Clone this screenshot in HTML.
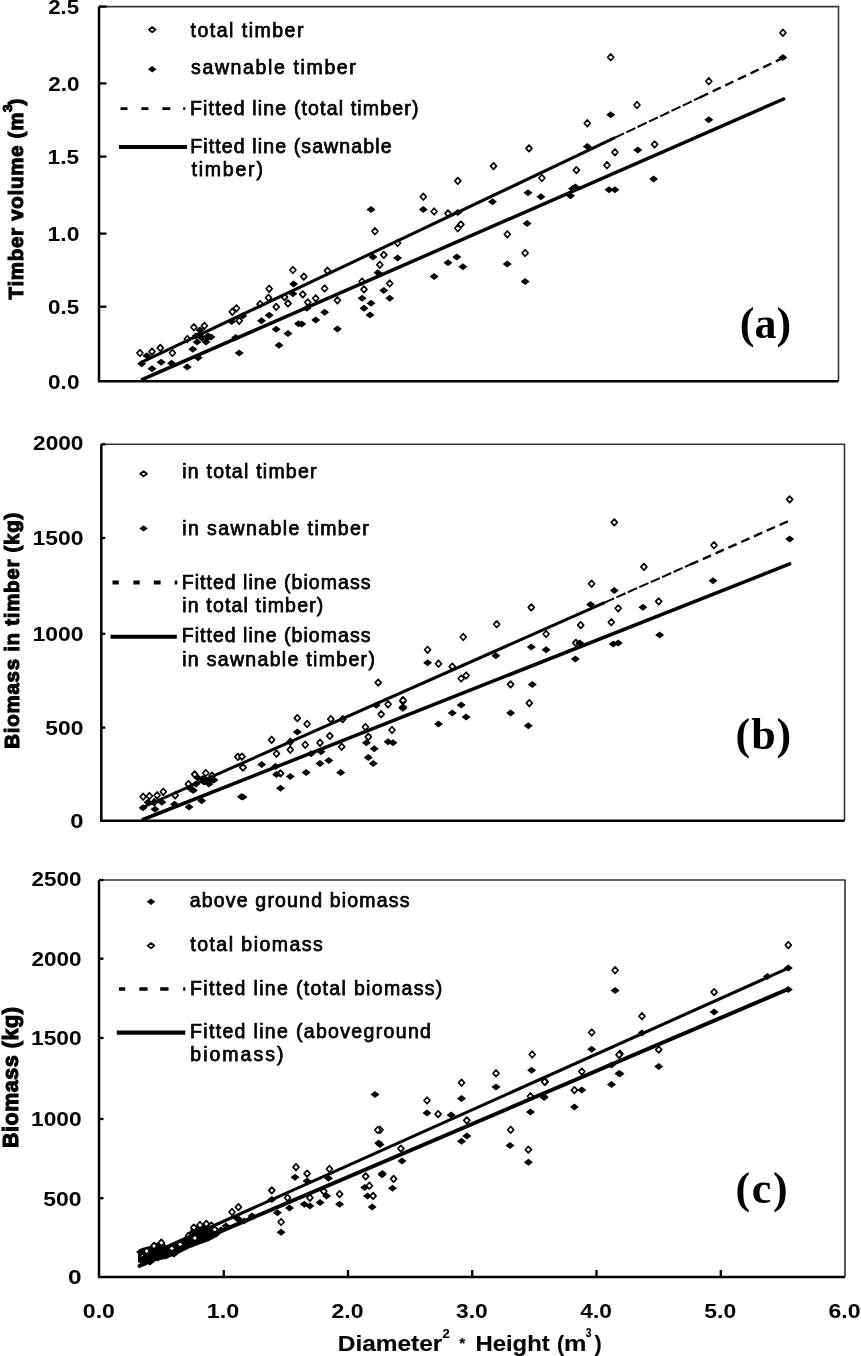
<!DOCTYPE html><html><head><meta charset="utf-8"><title>Timber volume and biomass vs D2H</title>
<style>
*{margin:0;padding:0}
html,body{width:861px;height:1356px;background:#fff;overflow:hidden}
svg{display:block;will-change:transform}
.yt{stroke:#000;stroke-width:1.1}
.xt{stroke:#000;stroke-width:0.15}
.lg{font-weight:normal;stroke:#000;stroke-width:0.75}
text{font-family:"Liberation Sans",sans-serif;font-weight:bold;fill:#000}
.o{fill:#fff;stroke:#000;stroke-width:1.7;stroke-linejoin:round}
.f{fill:#000}
.fr{fill:none;stroke:#333;stroke-width:1.6}
.ax{fill:none;stroke:#000;stroke-width:2.5}
.tk{fill:none;stroke:#000;stroke-width:2.3}
.sl{stroke:#000;stroke-width:3.5;stroke-linecap:round}
.slc{stroke:#000;stroke-width:4.0;stroke-linecap:round}
.ulc{stroke:#000;stroke-width:3.1}
.ul{stroke:#000;stroke-width:3.0}
.dl{stroke:#000;stroke-width:2.4;stroke-dasharray:9 5}
.dl1{stroke:#000;stroke-width:2.0;stroke-dasharray:10 2.5}
</style></head><body>
<svg width="861" height="1356" viewBox="0 0 861 1356">
<path d="M99 6.6H838.5V381.3" class="fr"/>
<path d="M99 6.6V381.3H838.5" class="ax"/>
<path d="M99 6.6h7.5" class="tk"/>
<path d="M99 83.4h7.5" class="tk"/>
<path d="M99 156.6h7.5" class="tk"/>
<path d="M99 233.6h7.5" class="tk"/>
<path d="M99 306.7h7.5" class="tk"/>
<text x="48.19" y="14.26" font-size="20.5" style="font-family:'Liberation Sans',sans-serif" textLength="30.98" lengthAdjust="spacingAndGlyphs">2.5</text>
<text x="48.19" y="91.06" font-size="20.5" style="font-family:'Liberation Sans',sans-serif" textLength="31.25" lengthAdjust="spacingAndGlyphs">2.0</text>
<text x="47.61" y="164.26" font-size="20.5" style="font-family:'Liberation Sans',sans-serif" textLength="31.56" lengthAdjust="spacingAndGlyphs">1.5</text>
<text x="47.61" y="241.26" font-size="20.5" style="font-family:'Liberation Sans',sans-serif" textLength="31.83" lengthAdjust="spacingAndGlyphs">1.0</text>
<text x="48.09" y="314.36" font-size="20.5" style="font-family:'Liberation Sans',sans-serif" textLength="31.08" lengthAdjust="spacingAndGlyphs">0.5</text>
<text x="48.09" y="388.96" font-size="20.5" style="font-family:'Liberation Sans',sans-serif" textLength="31.35" lengthAdjust="spacingAndGlyphs">0.0</text>
<path d="M136.9 353.0L139.9 349.7L142.9 353.0L139.9 356.3Z" class="o"/>
<path d="M149.0 351.6L152.0 348.3L155.0 351.6L152.0 354.9Z" class="o"/>
<path d="M157.3 347.9L160.3 344.6L163.3 347.9L160.3 351.2Z" class="o"/>
<path d="M169.4 353.0L172.4 349.7L175.4 353.0L172.4 356.3Z" class="o"/>
<path d="M184.3 339.0L187.3 335.7L190.3 339.0L187.3 342.3Z" class="o"/>
<path d="M190.9 327.2L193.9 323.9L196.9 327.2L193.9 330.5Z" class="o"/>
<path d="M201.4 325.8L204.4 322.5L207.4 325.8L204.4 329.1Z" class="o"/>
<path d="M229.3 311.8L232.3 308.5L235.3 311.8L232.3 315.1Z" class="o"/>
<path d="M233.4 308.3L236.4 305.0L239.4 308.3L236.4 311.6Z" class="o"/>
<path d="M236.2 320.8L239.2 317.5L242.2 320.8L239.2 324.1Z" class="o"/>
<path d="M257.1 304.1L260.1 300.8L263.1 304.1L260.1 307.4Z" class="o"/>
<path d="M265.5 297.8L268.5 294.5L271.5 297.8L268.5 301.1Z" class="o"/>
<path d="M266.2 288.8L269.2 285.5L272.2 288.8L269.2 292.1Z" class="o"/>
<path d="M273.2 306.9L276.2 303.6L279.2 306.9L276.2 310.2Z" class="o"/>
<path d="M281.5 297.1L284.5 293.8L287.5 297.1L284.5 300.4Z" class="o"/>
<path d="M285.0 303.4L288.0 300.1L291.0 303.4L288.0 306.7Z" class="o"/>
<path d="M289.9 270.0L292.9 266.7L295.9 270.0L292.9 273.3Z" class="o"/>
<path d="M300.8 276.6L303.8 273.3L306.8 276.6L303.8 279.9Z" class="o"/>
<path d="M324.5 270.7L327.5 267.4L330.5 270.7L327.5 274.0Z" class="o"/>
<path d="M321.6 288.5L324.6 285.2L327.6 288.5L324.6 291.8Z" class="o"/>
<path d="M299.8 294.4L302.8 291.1L305.8 294.4L302.8 297.7Z" class="o"/>
<path d="M312.7 298.3L315.7 295.0L318.7 298.3L315.7 301.6Z" class="o"/>
<path d="M304.8 302.3L307.8 299.0L310.8 302.3L307.8 305.6Z" class="o"/>
<path d="M334.4 300.3L337.4 297.0L340.4 300.3L337.4 303.6Z" class="o"/>
<path d="M359.1 281.5L362.1 278.2L365.1 281.5L362.1 284.8Z" class="o"/>
<path d="M361.0 289.4L364.0 286.1L367.0 289.4L364.0 292.7Z" class="o"/>
<path d="M371.9 231.2L374.9 227.9L377.9 231.2L374.9 234.5Z" class="o"/>
<path d="M380.8 254.9L383.8 251.6L386.8 254.9L383.8 258.2Z" class="o"/>
<path d="M376.8 264.8L379.8 261.5L382.8 264.8L379.8 268.1Z" class="o"/>
<path d="M386.7 283.5L389.7 280.2L392.7 283.5L389.7 286.8Z" class="o"/>
<path d="M394.6 243.0L397.6 239.7L400.6 243.0L397.6 246.3Z" class="o"/>
<path d="M420.3 196.7L423.3 193.4L426.3 196.7L423.3 200.0Z" class="o"/>
<path d="M431.1 211.5L434.1 208.2L437.1 211.5L434.1 214.8Z" class="o"/>
<path d="M445.0 213.4L448.0 210.1L451.0 213.4L448.0 216.7Z" class="o"/>
<path d="M454.8 228.2L457.8 224.9L460.8 228.2L457.8 231.5Z" class="o"/>
<path d="M454.8 180.9L457.8 177.6L460.8 180.9L457.8 184.2Z" class="o"/>
<path d="M457.9 224.4L460.9 221.1L463.9 224.4L460.9 227.7Z" class="o"/>
<path d="M490.5 166.1L493.5 162.8L496.5 166.1L493.5 169.4Z" class="o"/>
<path d="M504.3 234.3L507.3 231.0L510.3 234.3L507.3 237.6Z" class="o"/>
<path d="M522.1 253.0L525.1 249.7L528.1 253.0L525.1 256.3Z" class="o"/>
<path d="M526.0 148.4L529.0 145.1L532.0 148.4L529.0 151.7Z" class="o"/>
<path d="M538.9 178.0L541.9 174.7L544.9 178.0L541.9 181.3Z" class="o"/>
<path d="M573.4 170.1L576.4 166.8L579.4 170.1L576.4 173.4Z" class="o"/>
<path d="M584.3 123.3L587.3 120.0L590.3 123.3L587.3 126.6Z" class="o"/>
<path d="M604.0 165.2L607.0 161.9L610.0 165.2L607.0 168.5Z" class="o"/>
<path d="M611.9 152.3L614.9 149.0L617.9 152.3L614.9 155.6Z" class="o"/>
<path d="M607.7 57.2L610.7 53.9L613.7 57.2L610.7 60.5Z" class="o"/>
<path d="M634.0 105.0L637.0 101.7L640.0 105.0L637.0 108.3Z" class="o"/>
<path d="M651.6 144.4L654.6 141.1L657.6 144.4L654.6 147.7Z" class="o"/>
<path d="M705.8 81.2L708.8 77.9L711.8 81.2L708.8 84.5Z" class="o"/>
<path d="M779.9 32.8L782.9 29.5L785.9 32.8L782.9 36.1Z" class="o"/>
<path d="M137.2 363.7L141.7 360.2L146.2 363.7L141.7 367.2Z" class="f"/>
<path d="M142.3 355.8L146.8 352.3L151.3 355.8L146.8 359.3Z" class="f"/>
<path d="M156.7 362.3L161.2 358.8L165.7 362.3L161.2 365.8Z" class="f"/>
<path d="M147.5 368.8L152.0 365.3L156.5 368.8L152.0 372.3Z" class="f"/>
<path d="M167.0 363.2L171.5 359.7L176.0 363.2L171.5 366.7Z" class="f"/>
<path d="M188.3 349.3L192.8 345.8L197.3 349.3L192.8 352.8Z" class="f"/>
<path d="M182.8 366.9L187.3 363.4L191.8 366.9L187.3 370.4Z" class="f"/>
<path d="M193.6 357.8L198.1 354.3L202.6 357.8L198.1 361.3Z" class="f"/>
<path d="M195.0 334.8L199.5 331.3L204.0 334.8L199.5 338.3Z" class="f"/>
<path d="M203.4 337.6L207.9 334.1L212.4 337.6L207.9 341.1Z" class="f"/>
<path d="M227.1 321.5L231.6 318.0L236.1 321.5L231.6 325.0Z" class="f"/>
<path d="M238.2 316.0L242.7 312.5L247.2 316.0L242.7 319.5Z" class="f"/>
<path d="M231.2 337.6L235.7 334.1L240.2 337.6L235.7 341.1Z" class="f"/>
<path d="M234.7 353.0L239.2 349.5L243.7 353.0L239.2 356.5Z" class="f"/>
<path d="M257.0 320.8L261.5 317.3L266.0 320.8L261.5 324.3Z" class="f"/>
<path d="M264.7 315.3L269.2 311.8L273.7 315.3L269.2 318.8Z" class="f"/>
<path d="M271.7 329.2L276.2 325.7L280.7 329.2L276.2 332.7Z" class="f"/>
<path d="M283.5 333.4L288.0 329.9L292.5 333.4L288.0 336.9Z" class="f"/>
<path d="M274.5 345.3L279.0 341.8L283.5 345.3L279.0 348.8Z" class="f"/>
<path d="M289.1 283.9L293.6 280.4L298.1 283.9L293.6 287.4Z" class="f"/>
<path d="M288.4 293.7L292.9 290.2L297.4 293.7L292.9 297.2Z" class="f"/>
<path d="M294.0 323.7L298.5 320.2L303.0 323.7L298.5 327.2Z" class="f"/>
<path d="M297.3 324.0L301.8 320.5L306.3 324.0L301.8 327.5Z" class="f"/>
<path d="M302.3 308.2L306.8 304.7L311.3 308.2L306.8 311.7Z" class="f"/>
<path d="M311.2 320.0L315.7 316.5L320.2 320.0L315.7 323.5Z" class="f"/>
<path d="M320.1 312.2L324.6 308.7L329.1 312.2L324.6 315.7Z" class="f"/>
<path d="M332.9 328.9L337.4 325.4L341.9 328.9L337.4 332.4Z" class="f"/>
<path d="M357.6 298.3L362.1 294.8L366.6 298.3L362.1 301.8Z" class="f"/>
<path d="M359.5 308.2L364.0 304.7L368.5 308.2L364.0 311.7Z" class="f"/>
<path d="M365.5 315.1L370.0 311.6L374.5 315.1L370.0 318.6Z" class="f"/>
<path d="M366.5 303.3L371.0 299.8L375.5 303.3L371.0 306.8Z" class="f"/>
<path d="M366.5 209.5L371.0 206.0L375.5 209.5L371.0 213.0Z" class="f"/>
<path d="M368.5 256.9L373.0 253.4L377.5 256.9L373.0 260.4Z" class="f"/>
<path d="M373.4 272.7L377.9 269.2L382.4 272.7L377.9 276.2Z" class="f"/>
<path d="M379.3 290.4L383.8 286.9L388.3 290.4L383.8 293.9Z" class="f"/>
<path d="M385.2 298.3L389.7 294.8L394.2 298.3L389.7 301.8Z" class="f"/>
<path d="M393.1 257.9L397.6 254.4L402.1 257.9L397.6 261.4Z" class="f"/>
<path d="M418.8 209.5L423.3 206.0L427.8 209.5L423.3 213.0Z" class="f"/>
<path d="M429.6 276.6L434.1 273.1L438.6 276.6L434.1 280.1Z" class="f"/>
<path d="M443.5 262.8L448.0 259.3L452.5 262.8L448.0 266.3Z" class="f"/>
<path d="M452.3 256.9L456.8 253.4L461.3 256.9L456.8 260.4Z" class="f"/>
<path d="M453.3 212.4L457.8 208.9L462.3 212.4L457.8 215.9Z" class="f"/>
<path d="M458.4 266.8L462.9 263.3L467.4 266.8L462.9 270.3Z" class="f"/>
<path d="M488.0 201.7L492.5 198.2L497.0 201.7L492.5 205.2Z" class="f"/>
<path d="M502.8 263.9L507.3 260.4L511.8 263.9L507.3 267.4Z" class="f"/>
<path d="M520.6 281.6L525.1 278.1L529.6 281.6L525.1 285.1Z" class="f"/>
<path d="M522.6 223.4L527.1 219.9L531.6 223.4L527.1 226.9Z" class="f"/>
<path d="M523.5 192.8L528.0 189.3L532.5 192.8L528.0 196.3Z" class="f"/>
<path d="M536.4 196.7L540.9 193.2L545.4 196.7L540.9 200.2Z" class="f"/>
<path d="M566.0 195.8L570.5 192.3L575.0 195.8L570.5 199.3Z" class="f"/>
<path d="M568.0 188.8L572.5 185.3L577.0 188.8L572.5 192.3Z" class="f"/>
<path d="M570.9 186.9L575.4 183.4L579.9 186.9L575.4 190.4Z" class="f"/>
<path d="M582.8 146.4L587.3 142.9L591.8 146.4L587.3 149.9Z" class="f"/>
<path d="M604.5 189.8L609.0 186.3L613.5 189.8L609.0 193.3Z" class="f"/>
<path d="M610.4 189.8L614.9 186.3L619.4 189.8L614.9 193.3Z" class="f"/>
<path d="M606.2 114.8L610.7 111.3L615.2 114.8L610.7 118.3Z" class="f"/>
<path d="M633.3 149.9L637.8 146.4L642.3 149.9L637.8 153.4Z" class="f"/>
<path d="M649.1 178.9L653.6 175.4L658.1 178.9L653.6 182.4Z" class="f"/>
<path d="M704.3 119.7L708.8 116.2L713.3 119.7L708.8 123.2Z" class="f"/>
<path d="M778.4 57.5L782.9 54.0L787.4 57.5L782.9 61.0Z" class="f"/>
<path d="M191.5 336.0L196.0 332.5L200.5 336.0L196.0 339.5Z" class="f"/>
<path d="M197.5 338.0L202.0 334.5L206.5 338.0L202.0 341.5Z" class="f"/>
<path d="M203.5 336.0L208.0 332.5L212.5 336.0L208.0 339.5Z" class="f"/>
<path d="M195.5 330.0L200.0 326.5L204.5 330.0L200.0 333.5Z" class="f"/>
<path d="M201.5 342.0L206.0 338.5L210.5 342.0L206.0 345.5Z" class="f"/>
<path d="M206.5 337.0L211.0 333.5L215.5 337.0L211.0 340.5Z" class="f"/>
<path d="M192.5 342.0L197.0 338.5L201.5 342.0L197.0 345.5Z" class="f"/>
<line x1="142.5" y1="379.4" x2="783.6" y2="99.0" class="sl"/>
<line x1="139.7" y1="363.2" x2="615.0" y2="137.7" class="ul"/>
<line x1="615.0" y1="137.7" x2="700.0" y2="97.4" class="dl1"/>
<line x1="700.0" y1="97.4" x2="783.6" y2="57.7" class="dl"/>
<path d="M148.8 29.6L152.2 27.0L155.6 29.6L152.2 32.2Z" class="o"/>
<path d="M148.0 69.2L152.2 66.0L156.4 69.2L152.2 72.4Z" class="f"/>
<path d="M120.5 108.6h7M141.4 108.6h7M162.3 108.6h8M183.2 108.6h2" stroke="#000" stroke-width="2.8"/>
<path d="M119 147h68" stroke="#000" stroke-width="4"/>
<text x="190.60" y="36.50" font-size="19.5" style="font-family:'Liberation Sans',sans-serif" textLength="112.82" lengthAdjust="spacing" class="lg">total timber</text>
<text x="191.06" y="73.70" font-size="19.5" style="font-family:'Liberation Sans',sans-serif" textLength="164.77" lengthAdjust="spacing" class="lg">sawnable timber</text>
<text x="190.00" y="115.40" font-size="19.5" style="font-family:'Liberation Sans',sans-serif" textLength="228.41" lengthAdjust="spacing" class="lg">Fitted line (total timber)</text>
<text x="190.20" y="152.80" font-size="19.5" style="font-family:'Liberation Sans',sans-serif" textLength="201.37" lengthAdjust="spacing" class="lg">Fitted line (sawnable</text>
<text x="191.50" y="176.00" font-size="19.5" style="font-family:'Liberation Sans',sans-serif" textLength="71.40" lengthAdjust="spacing" class="lg">timber)</text>
<text x="739.67" y="337.80" font-size="44" style="font-family:'Liberation Serif',serif" textLength="51.57" lengthAdjust="spacing">(a)</text>
<text transform="translate(23.30 299.43) rotate(-90)" x="0" y="0" font-size="20.5" textLength="186.80" lengthAdjust="spacing" class="yt">Timber volume (m</text>
<text transform="translate(12.20 112.01) rotate(-90)" x="0" y="0" font-size="13.5" textLength="6.80" lengthAdjust="spacing" class="yt">3</text>
<text transform="translate(23.30 105.42) rotate(-90)" x="0" y="0" font-size="20.5" textLength="6.94" lengthAdjust="spacing" class="yt">)</text>
<path d="M101.3 444.3H844.5V820.8" class="fr"/>
<path d="M101.3 444.3V820.8H844.5" class="ax"/>
<path d="M101.3 444.3h4" class="tk"/>
<path d="M101.3 538h4" class="tk"/>
<path d="M101.3 633.8h4" class="tk"/>
<path d="M101.3 727.6h4" class="tk"/>
<text x="33.09" y="449.96" font-size="20.5" style="font-family:'Liberation Sans',sans-serif" textLength="50.35" lengthAdjust="spacingAndGlyphs">2000</text>
<text x="32.51" y="544.86" font-size="20.5" style="font-family:'Liberation Sans',sans-serif" textLength="50.93" lengthAdjust="spacingAndGlyphs">1500</text>
<text x="32.51" y="640.96" font-size="20.5" style="font-family:'Liberation Sans',sans-serif" textLength="50.93" lengthAdjust="spacingAndGlyphs">1000</text>
<text x="45.37" y="734.76" font-size="20.5" style="font-family:'Liberation Sans',sans-serif" textLength="38.07" lengthAdjust="spacingAndGlyphs">500</text>
<text x="70.19" y="828.46" font-size="20.5" style="font-family:'Liberation Sans',sans-serif" textLength="13.25" lengthAdjust="spacingAndGlyphs">0</text>
<path d="M140.1 796.7L143.1 793.4L146.1 796.7L143.1 800.0Z" class="o"/>
<path d="M146.4 796.0L149.4 792.7L152.4 796.0L149.4 799.3Z" class="o"/>
<path d="M154.1 795.3L157.1 792.0L160.1 795.3L157.1 798.6Z" class="o"/>
<path d="M160.3 791.8L163.3 788.5L166.3 791.8L163.3 795.1Z" class="o"/>
<path d="M172.2 795.3L175.2 792.0L178.2 795.3L175.2 798.6Z" class="o"/>
<path d="M151.3 802.2L154.3 798.9L157.3 802.2L154.3 805.5Z" class="o"/>
<path d="M185.4 784.1L188.4 780.8L191.4 784.1L188.4 787.4Z" class="o"/>
<path d="M191.7 774.4L194.7 771.1L197.7 774.4L194.7 777.7Z" class="o"/>
<path d="M202.8 773.0L205.8 769.7L208.8 773.0L205.8 776.3Z" class="o"/>
<path d="M209.1 775.7L212.1 772.4L215.1 775.7L212.1 779.0Z" class="o"/>
<path d="M234.9 756.9L237.9 753.6L240.9 756.9L237.9 760.2Z" class="o"/>
<path d="M239.8 767.4L242.8 764.1L245.8 767.4L242.8 770.7Z" class="o"/>
<path d="M375.2 682.6L378.2 679.3L381.2 682.6L378.2 685.9Z" class="o"/>
<path d="M294.3 718.1L297.3 714.8L300.3 718.1L297.3 721.4Z" class="o"/>
<path d="M304.1 724.0L307.1 720.7L310.1 724.0L307.1 727.3Z" class="o"/>
<path d="M268.6 739.8L271.6 736.5L274.6 739.8L271.6 743.1Z" class="o"/>
<path d="M287.3 741.8L290.3 738.5L293.3 741.8L290.3 745.1Z" class="o"/>
<path d="M287.3 749.7L290.3 746.4L293.3 749.7L290.3 753.0Z" class="o"/>
<path d="M273.5 753.7L276.5 750.4L279.5 753.7L276.5 757.0Z" class="o"/>
<path d="M302.2 744.8L305.2 741.5L308.2 744.8L305.2 748.1Z" class="o"/>
<path d="M317.0 742.8L320.0 739.5L323.0 742.8L320.0 746.1Z" class="o"/>
<path d="M326.8 735.9L329.8 732.6L332.8 735.9L329.8 739.2Z" class="o"/>
<path d="M327.8 719.1L330.8 715.8L333.8 719.1L330.8 722.4Z" class="o"/>
<path d="M339.7 719.1L342.7 715.8L345.7 719.1L342.7 722.4Z" class="o"/>
<path d="M338.7 746.7L341.7 743.4L344.7 746.7L341.7 750.0Z" class="o"/>
<path d="M239.0 756.6L242.0 753.3L245.0 756.6L242.0 759.9Z" class="o"/>
<path d="M240.0 767.5L243.0 764.2L246.0 767.5L243.0 770.8Z" class="o"/>
<path d="M277.5 773.4L280.5 770.1L283.5 773.4L280.5 776.7Z" class="o"/>
<path d="M362.4 727.0L365.4 723.7L368.4 727.0L365.4 730.3Z" class="o"/>
<path d="M365.3 736.9L368.3 733.6L371.3 736.9L368.3 740.2Z" class="o"/>
<path d="M378.2 714.2L381.2 710.9L384.2 714.2L381.2 717.5Z" class="o"/>
<path d="M385.1 704.3L388.1 701.0L391.1 704.3L388.1 707.6Z" class="o"/>
<path d="M399.9 701.3L402.9 698.0L405.9 701.3L402.9 704.6Z" class="o"/>
<path d="M389.0 730.0L392.0 726.7L395.0 730.0L392.0 733.3Z" class="o"/>
<path d="M528.3 607.4L531.3 604.1L534.3 607.4L531.3 610.7Z" class="o"/>
<path d="M493.7 624.2L496.7 620.9L499.7 624.2L496.7 627.5Z" class="o"/>
<path d="M460.2 637.0L463.2 633.7L466.2 637.0L463.2 640.3Z" class="o"/>
<path d="M424.6 649.8L427.6 646.5L430.6 649.8L427.6 653.1Z" class="o"/>
<path d="M435.5 663.7L438.5 660.4L441.5 663.7L438.5 667.0Z" class="o"/>
<path d="M449.3 666.6L452.3 663.3L455.3 666.6L452.3 669.9Z" class="o"/>
<path d="M458.2 678.5L461.2 675.2L464.2 678.5L461.2 681.8Z" class="o"/>
<path d="M463.1 675.5L466.1 672.2L469.1 675.5L466.1 678.8Z" class="o"/>
<path d="M543.1 634.0L546.1 630.7L549.1 634.0L546.1 637.3Z" class="o"/>
<path d="M507.6 684.4L510.6 681.1L513.6 684.4L510.6 687.7Z" class="o"/>
<path d="M526.3 703.1L529.3 699.8L532.3 703.1L529.3 706.4Z" class="o"/>
<path d="M400.0 700.2L403.0 696.9L406.0 700.2L403.0 703.5Z" class="o"/>
<path d="M611.3 522.4L614.3 519.1L617.3 522.4L614.3 525.7Z" class="o"/>
<path d="M711.0 545.2L714.0 541.9L717.0 545.2L714.0 548.5Z" class="o"/>
<path d="M640.9 566.9L643.9 563.6L646.9 566.9L643.9 570.2Z" class="o"/>
<path d="M588.6 583.7L591.6 580.4L594.6 583.7L591.6 587.0Z" class="o"/>
<path d="M655.7 601.4L658.7 598.1L661.7 601.4L658.7 604.7Z" class="o"/>
<path d="M615.2 608.3L618.2 605.0L621.2 608.3L618.2 611.6Z" class="o"/>
<path d="M577.7 625.1L580.7 621.8L583.7 625.1L580.7 628.4Z" class="o"/>
<path d="M608.3 622.2L611.3 618.9L614.3 622.2L611.3 625.5Z" class="o"/>
<path d="M572.8 642.9L575.8 639.6L578.8 642.9L575.8 646.2Z" class="o"/>
<path d="M786.7 499.4L789.7 496.1L792.7 499.4L789.7 502.7Z" class="o"/>
<path d="M138.6 807.8L143.1 804.3L147.6 807.8L143.1 811.3Z" class="f"/>
<path d="M143.5 802.2L148.0 798.7L152.5 802.2L148.0 805.7Z" class="f"/>
<path d="M157.4 802.2L161.9 798.7L166.4 802.2L161.9 805.7Z" class="f"/>
<path d="M150.5 809.2L155.0 805.7L159.5 809.2L155.0 812.7Z" class="f"/>
<path d="M170.0 804.3L174.5 800.8L179.0 804.3L174.5 807.8Z" class="f"/>
<path d="M184.6 807.1L189.1 803.6L193.6 807.1L189.1 810.6Z" class="f"/>
<path d="M197.2 800.8L201.7 797.3L206.2 800.8L201.7 804.3Z" class="f"/>
<path d="M188.8 790.4L193.3 786.9L197.8 790.4L193.3 793.9Z" class="f"/>
<path d="M198.5 778.5L203.0 775.0L207.5 778.5L203.0 782.0Z" class="f"/>
<path d="M205.5 781.3L210.0 777.8L214.5 781.3L210.0 784.8Z" class="f"/>
<path d="M236.9 796.7L241.4 793.2L245.9 796.7L241.4 800.2Z" class="f"/>
<path d="M292.8 731.9L297.3 728.4L301.8 731.9L297.3 735.4Z" class="f"/>
<path d="M398.4 708.2L402.9 704.7L407.4 708.2L402.9 711.7Z" class="f"/>
<path d="M257.2 764.5L261.7 761.0L266.2 764.5L261.7 768.0Z" class="f"/>
<path d="M271.0 766.5L275.5 763.0L280.0 766.5L275.5 770.0Z" class="f"/>
<path d="M272.0 774.4L276.5 770.9L281.0 774.4L276.5 777.9Z" class="f"/>
<path d="M285.8 776.4L290.3 772.9L294.8 776.4L290.3 779.9Z" class="f"/>
<path d="M301.6 772.4L306.1 768.9L310.6 772.4L306.1 775.9Z" class="f"/>
<path d="M276.0 788.2L280.5 784.7L285.0 788.2L280.5 791.7Z" class="f"/>
<path d="M238.5 797.1L243.0 793.6L247.5 797.1L243.0 800.6Z" class="f"/>
<path d="M315.5 763.5L320.0 760.0L324.5 763.5L320.0 767.0Z" class="f"/>
<path d="M324.3 760.6L328.8 757.1L333.3 760.6L328.8 764.1Z" class="f"/>
<path d="M336.2 772.4L340.7 768.9L345.2 772.4L340.7 775.9Z" class="f"/>
<path d="M361.9 742.8L366.4 739.3L370.9 742.8L366.4 746.3Z" class="f"/>
<path d="M369.8 748.7L374.3 745.2L378.8 748.7L374.3 752.2Z" class="f"/>
<path d="M363.8 757.6L368.3 754.1L372.8 757.6L368.3 761.1Z" class="f"/>
<path d="M368.8 763.5L373.3 760.0L377.8 763.5L373.3 767.0Z" class="f"/>
<path d="M383.6 741.8L388.1 738.3L392.6 741.8L388.1 745.3Z" class="f"/>
<path d="M388.5 742.8L393.0 739.3L397.5 742.8L393.0 746.3Z" class="f"/>
<path d="M316.5 751.7L321.0 748.2L325.5 751.7L321.0 755.2Z" class="f"/>
<path d="M306.6 753.7L311.1 750.2L315.6 753.7L311.1 757.2Z" class="f"/>
<path d="M371.7 705.3L376.2 701.8L380.7 705.3L376.2 708.8Z" class="f"/>
<path d="M423.1 662.7L427.6 659.2L432.1 662.7L427.6 666.2Z" class="f"/>
<path d="M491.3 655.8L495.8 652.3L500.3 655.8L495.8 659.3Z" class="f"/>
<path d="M526.8 646.9L531.3 643.4L535.8 646.9L531.3 650.4Z" class="f"/>
<path d="M541.6 649.8L546.1 646.3L550.6 649.8L546.1 653.3Z" class="f"/>
<path d="M527.8 684.4L532.3 680.9L536.8 684.4L532.3 687.9Z" class="f"/>
<path d="M398.5 707.1L403.0 703.6L407.5 707.1L403.0 710.6Z" class="f"/>
<path d="M456.7 705.1L461.2 701.6L465.7 705.1L461.2 708.6Z" class="f"/>
<path d="M447.8 713.0L452.3 709.5L456.8 713.0L452.3 716.5Z" class="f"/>
<path d="M461.6 717.0L466.1 713.5L470.6 717.0L466.1 720.5Z" class="f"/>
<path d="M434.0 723.9L438.5 720.4L443.0 723.9L438.5 727.4Z" class="f"/>
<path d="M506.1 713.0L510.6 709.5L515.1 713.0L510.6 716.5Z" class="f"/>
<path d="M523.8 725.8L528.3 722.3L532.8 725.8L528.3 729.3Z" class="f"/>
<path d="M609.8 590.6L614.3 587.1L618.8 590.6L614.3 594.1Z" class="f"/>
<path d="M586.1 604.4L590.6 600.9L595.1 604.4L590.6 607.9Z" class="f"/>
<path d="M638.4 607.3L642.9 603.8L647.4 607.3L642.9 610.8Z" class="f"/>
<path d="M708.5 580.7L713.0 577.2L717.5 580.7L713.0 584.2Z" class="f"/>
<path d="M655.2 635.0L659.7 631.5L664.2 635.0L659.7 638.5Z" class="f"/>
<path d="M608.8 643.9L613.3 640.4L617.8 643.9L613.3 647.4Z" class="f"/>
<path d="M613.7 642.9L618.2 639.4L622.7 642.9L618.2 646.4Z" class="f"/>
<path d="M575.2 642.9L579.7 639.4L584.2 642.9L579.7 646.4Z" class="f"/>
<path d="M570.8 659.0L575.3 655.5L579.8 659.0L575.3 662.5Z" class="f"/>
<path d="M785.2 539.0L789.7 535.5L794.2 539.0L789.7 542.5Z" class="f"/>
<path d="M193.5 778.0L198.0 774.5L202.5 778.0L198.0 781.5Z" class="f"/>
<path d="M199.5 782.0L204.0 778.5L208.5 782.0L204.0 785.5Z" class="f"/>
<path d="M204.5 784.0L209.0 780.5L213.5 784.0L209.0 787.5Z" class="f"/>
<path d="M191.5 784.0L196.0 780.5L200.5 784.0L196.0 787.5Z" class="f"/>
<path d="M209.5 780.0L214.0 776.5L218.5 780.0L214.0 783.5Z" class="f"/>
<path d="M186.5 789.0L191.0 785.5L195.5 789.0L191.0 792.5Z" class="f"/>
<line x1="143.1" y1="819.5" x2="789.7" y2="563.9" class="sl"/>
<line x1="140.0" y1="808.5" x2="605.0" y2="602.4" class="ul"/>
<line x1="605.0" y1="602.4" x2="690.0" y2="564.7" class="dl1"/>
<line x1="690.0" y1="564.7" x2="788.4" y2="521.1" class="dl"/>
<path d="M140.2 473.7L143.6 471.1L147.0 473.7L143.6 476.3Z" class="o"/>
<path d="M139.4 528.4L143.6 525.2L147.8 528.4L143.6 531.6Z" class="f"/>
<path d="M112.5 582.5h6.3M133.4 582.5h6.3M153.8 582.5h6.8M174.7 582.5h2.6" stroke="#000" stroke-width="4"/>
<path d="M110.5 636.8h66.3" stroke="#000" stroke-width="4"/>
<text x="182.20" y="478.20" font-size="19.5" style="font-family:'Liberation Sans',sans-serif" textLength="134.33" lengthAdjust="spacing" class="lg">in total timber</text>
<text x="182.20" y="534.60" font-size="19.5" style="font-family:'Liberation Sans',sans-serif" textLength="186.63" lengthAdjust="spacing" class="lg">in sawnable timber</text>
<text x="181.70" y="588.80" font-size="19.5" style="font-family:'Liberation Sans',sans-serif" textLength="188.70" lengthAdjust="spacing" class="lg">Fitted line (biomass</text>
<text x="182.20" y="611.80" font-size="19.5" style="font-family:'Liberation Sans',sans-serif" textLength="141.11" lengthAdjust="spacing" class="lg">in total timber)</text>
<text x="181.70" y="642.20" font-size="19.5" style="font-family:'Liberation Sans',sans-serif" textLength="188.70" lengthAdjust="spacing" class="lg">Fitted line (biomass</text>
<text x="182.20" y="665.50" font-size="19.5" style="font-family:'Liberation Sans',sans-serif" textLength="192.71" lengthAdjust="spacing" class="lg">in sawnable timber)</text>
<text x="735.57" y="748.80" font-size="44" style="font-family:'Liberation Serif',serif" textLength="55.67" lengthAdjust="spacing">(b)</text>
<text transform="translate(19.20 748.67) rotate(-90)" x="0" y="0" font-size="20.5" textLength="235.89" lengthAdjust="spacing" class="yt">Biomass in timber (kg)</text>
<path d="M99 880H845V1277" class="fr"/>
<path d="M99 880V1277H845" class="ax"/>
<path d="M99 880h4.5" class="tk"/>
<path d="M99 958.7h4.5" class="tk"/>
<path d="M99 1037.9h4.5" class="tk"/>
<path d="M99 1119h4.5" class="tk"/>
<path d="M99 1198.2h4.5" class="tk"/>
<path d="M223.8 1277v-7" class="tk"/>
<path d="M348.0 1277v-7" class="tk"/>
<path d="M472.2 1277v-7" class="tk"/>
<path d="M596.5 1277v-7" class="tk"/>
<path d="M720.8 1277v-7" class="tk"/>
<text x="31.59" y="886.26" font-size="20.5" style="font-family:'Liberation Sans',sans-serif" textLength="49.95" lengthAdjust="spacingAndGlyphs">2500</text>
<text x="31.59" y="965.56" font-size="20.5" style="font-family:'Liberation Sans',sans-serif" textLength="49.95" lengthAdjust="spacingAndGlyphs">2000</text>
<text x="31.01" y="1045.06" font-size="20.5" style="font-family:'Liberation Sans',sans-serif" textLength="50.53" lengthAdjust="spacingAndGlyphs">1500</text>
<text x="31.01" y="1126.16" font-size="20.5" style="font-family:'Liberation Sans',sans-serif" textLength="50.53" lengthAdjust="spacingAndGlyphs">1000</text>
<text x="43.27" y="1205.86" font-size="20.5" style="font-family:'Liberation Sans',sans-serif" textLength="38.27" lengthAdjust="spacingAndGlyphs">500</text>
<text x="67.99" y="1284.06" font-size="20.5" style="font-family:'Liberation Sans',sans-serif" textLength="13.55" lengthAdjust="spacingAndGlyphs">0</text>
<text x="82.89" y="1318.36" font-size="20.5" style="font-family:'Liberation Sans',sans-serif" textLength="32.05" lengthAdjust="spacingAndGlyphs">0.0</text>
<text x="206.66" y="1318.36" font-size="20.5" style="font-family:'Liberation Sans',sans-serif" textLength="32.53" lengthAdjust="spacingAndGlyphs">1.0</text>
<text x="331.49" y="1318.36" font-size="20.5" style="font-family:'Liberation Sans',sans-serif" textLength="31.95" lengthAdjust="spacingAndGlyphs">2.0</text>
<text x="455.98" y="1318.36" font-size="20.5" style="font-family:'Liberation Sans',sans-serif" textLength="31.71" lengthAdjust="spacingAndGlyphs">3.0</text>
<text x="580.39" y="1318.36" font-size="20.5" style="font-family:'Liberation Sans',sans-serif" textLength="31.55" lengthAdjust="spacingAndGlyphs">4.0</text>
<text x="704.32" y="1318.36" font-size="20.5" style="font-family:'Liberation Sans',sans-serif" textLength="31.87" lengthAdjust="spacingAndGlyphs">5.0</text>
<text x="828.45" y="1318.36" font-size="20.5" style="font-family:'Liberation Sans',sans-serif" textLength="31.99" lengthAdjust="spacingAndGlyphs">6.0</text>
<path d="M138 1251L142 1248L150 1246L156 1243L162 1241L167 1246L176 1244L186 1238L191 1229L199 1224L207 1224L214 1225L218 1228L218 1236L209 1241L190 1248L176 1255L165 1259L155 1261L148 1264L142 1265L138 1262Z" fill="#000"/>
<path d="M783.8 968.1L788.3 964.6L792.8 968.1L788.3 971.6Z" class="f"/>
<path d="M762.9 976.4L767.4 972.9L771.9 976.4L767.4 979.9Z" class="f"/>
<path d="M709.6 1012.0L714.1 1008.5L718.6 1012.0L714.1 1015.5Z" class="f"/>
<path d="M637.5 1032.9L642.0 1029.4L646.5 1032.9L642.0 1036.4Z" class="f"/>
<path d="M654.2 1066.4L658.7 1062.9L663.2 1066.4L658.7 1069.9Z" class="f"/>
<path d="M615.5 1073.7L620.0 1070.2L624.5 1073.7L620.0 1077.2Z" class="f"/>
<path d="M610.6 990.6L615.1 987.1L619.6 990.6L615.1 994.1Z" class="f"/>
<path d="M527.1 1070.2L531.6 1066.7L536.1 1070.2L531.6 1073.7Z" class="f"/>
<path d="M491.5 1086.9L496.0 1083.4L500.5 1086.9L496.0 1090.4Z" class="f"/>
<path d="M457.0 1098.4L461.5 1094.9L466.0 1098.4L461.5 1101.9Z" class="f"/>
<path d="M422.5 1113.0L427.0 1109.5L431.5 1113.0L427.0 1116.5Z" class="f"/>
<path d="M446.6 1115.1L451.1 1111.6L455.6 1115.1L451.1 1118.6Z" class="f"/>
<path d="M457.0 1141.3L461.5 1137.8L466.0 1141.3L461.5 1144.8Z" class="f"/>
<path d="M462.3 1136.0L466.8 1132.5L471.3 1136.0L466.8 1139.5Z" class="f"/>
<path d="M505.5 1145.4L510.0 1141.9L514.5 1145.4L510.0 1148.9Z" class="f"/>
<path d="M523.9 1162.2L528.4 1158.7L532.9 1162.2L528.4 1165.7Z" class="f"/>
<path d="M539.6 1097.4L544.1 1093.9L548.6 1097.4L544.1 1100.9Z" class="f"/>
<path d="M526.0 1112.0L530.5 1108.5L535.0 1112.0L530.5 1115.5Z" class="f"/>
<path d="M397.5 1161.1L402.0 1157.6L406.5 1161.1L402.0 1164.6Z" class="f"/>
<path d="M388.0 1188.3L392.5 1184.8L397.0 1188.3L392.5 1191.8Z" class="f"/>
<path d="M377.6 1174.7L382.1 1171.2L386.6 1174.7L382.1 1178.2Z" class="f"/>
<path d="M375.5 1144.4L380.0 1140.9L384.5 1144.4L380.0 1147.9Z" class="f"/>
<path d="M587.2 1049.2L591.7 1045.7L596.2 1049.2L591.7 1052.7Z" class="f"/>
<path d="M614.5 1073.4L619.0 1069.9L623.5 1073.4L619.0 1076.9Z" class="f"/>
<path d="M607.0 1065.0L611.5 1061.5L616.0 1065.0L611.5 1068.5Z" class="f"/>
<path d="M607.0 1084.6L611.5 1081.1L616.0 1084.6L611.5 1088.1Z" class="f"/>
<path d="M577.3 1090.1L581.8 1086.6L586.3 1090.1L581.8 1093.6Z" class="f"/>
<path d="M569.9 1106.9L574.4 1103.4L578.9 1106.9L574.4 1110.4Z" class="f"/>
<path d="M539.2 1096.6L543.7 1093.1L548.2 1096.6L543.7 1100.1Z" class="f"/>
<path d="M370.5 1094.6L375.0 1091.1L379.5 1094.6L375.0 1098.1Z" class="f"/>
<path d="M374.2 1143.0L378.7 1139.5L383.2 1143.0L378.7 1146.5Z" class="f"/>
<path d="M377.9 1173.6L382.4 1170.1L386.9 1173.6L382.4 1177.1Z" class="f"/>
<path d="M290.5 1177.3L295.0 1173.8L299.5 1177.3L295.0 1180.8Z" class="f"/>
<path d="M302.6 1181.0L307.1 1177.5L311.6 1181.0L307.1 1184.5Z" class="f"/>
<path d="M324.0 1178.3L328.5 1174.8L333.0 1178.3L328.5 1181.8Z" class="f"/>
<path d="M267.3 1199.6L271.8 1196.1L276.3 1199.6L271.8 1203.1Z" class="f"/>
<path d="M276.6 1232.2L281.1 1228.7L285.6 1232.2L281.1 1235.7Z" class="f"/>
<path d="M272.9 1212.7L277.4 1209.2L281.9 1212.7L277.4 1216.2Z" class="f"/>
<path d="M335.1 1204.3L339.6 1200.8L344.1 1204.3L339.6 1207.8Z" class="f"/>
<path d="M360.2 1187.6L364.7 1184.1L369.2 1187.6L364.7 1191.1Z" class="f"/>
<path d="M363.0 1195.9L367.5 1192.4L372.0 1195.9L367.5 1199.4Z" class="f"/>
<path d="M367.7 1207.1L372.2 1203.6L376.7 1207.1L372.2 1210.6Z" class="f"/>
<path d="M305.4 1206.1L309.9 1202.6L314.4 1206.1L309.9 1209.6Z" class="f"/>
<path d="M299.8 1204.3L304.3 1200.8L308.8 1204.3L304.3 1207.8Z" class="f"/>
<path d="M315.6 1202.4L320.1 1198.9L324.6 1202.4L320.1 1205.9Z" class="f"/>
<path d="M322.1 1195.9L326.6 1192.4L331.1 1195.9L326.6 1199.4Z" class="f"/>
<path d="M285.0 1208.0L289.5 1204.5L294.0 1208.0L289.5 1211.5Z" class="f"/>
<path d="M232.9 1218.2L237.4 1214.7L241.9 1218.2L237.4 1221.7Z" class="f"/>
<path d="M136.0 1252.0L140.5 1248.5L145.0 1252.0L140.5 1255.5Z" class="f"/>
<path d="M138.5 1262.0L143.0 1258.5L147.5 1262.0L143.0 1265.5Z" class="f"/>
<path d="M143.5 1258.0L148.0 1254.5L152.5 1258.0L148.0 1261.5Z" class="f"/>
<path d="M147.5 1256.0L152.0 1252.5L156.5 1256.0L152.0 1259.5Z" class="f"/>
<path d="M151.5 1252.0L156.0 1248.5L160.5 1252.0L156.0 1255.5Z" class="f"/>
<path d="M155.5 1250.0L160.0 1246.5L164.5 1250.0L160.0 1253.5Z" class="f"/>
<path d="M158.5 1254.0L163.0 1250.5L167.5 1254.0L163.0 1257.5Z" class="f"/>
<path d="M163.5 1252.0L168.0 1248.5L172.5 1252.0L168.0 1255.5Z" class="f"/>
<path d="M169.5 1254.0L174.0 1250.5L178.5 1254.0L174.0 1257.5Z" class="f"/>
<path d="M171.5 1248.0L176.0 1244.5L180.5 1248.0L176.0 1251.5Z" class="f"/>
<path d="M179.5 1246.0L184.0 1242.5L188.5 1246.0L184.0 1249.5Z" class="f"/>
<path d="M183.5 1242.0L188.0 1238.5L192.5 1242.0L188.0 1245.5Z" class="f"/>
<path d="M187.5 1244.0L192.0 1240.5L196.5 1244.0L192.0 1247.5Z" class="f"/>
<path d="M191.5 1240.0L196.0 1236.5L200.5 1240.0L196.0 1243.5Z" class="f"/>
<path d="M195.5 1236.0L200.0 1232.5L204.5 1236.0L200.0 1239.5Z" class="f"/>
<path d="M199.5 1232.0L204.0 1228.5L208.5 1232.0L204.0 1235.5Z" class="f"/>
<path d="M203.5 1238.0L208.0 1234.5L212.5 1238.0L208.0 1241.5Z" class="f"/>
<path d="M205.5 1230.0L210.0 1226.5L214.5 1230.0L210.0 1233.5Z" class="f"/>
<path d="M193.5 1232.0L198.0 1228.5L202.5 1232.0L198.0 1235.5Z" class="f"/>
<path d="M211.5 1234.0L216.0 1230.5L220.5 1234.0L216.0 1237.5Z" class="f"/>
<path d="M197.5 1228.0L202.0 1224.5L206.5 1228.0L202.0 1231.5Z" class="f"/>
<path d="M207.5 1236.0L212.0 1232.5L216.5 1236.0L212.0 1239.5Z" class="f"/>
<path d="M145.5 1262.0L150.0 1258.5L154.5 1262.0L150.0 1265.5Z" class="f"/>
<path d="M153.5 1258.0L158.0 1254.5L162.5 1258.0L158.0 1261.5Z" class="f"/>
<path d="M161.5 1256.0L166.0 1252.5L170.5 1256.0L166.0 1259.5Z" class="f"/>
<path d="M233.5 1219.0L238.0 1215.5L242.5 1219.0L238.0 1222.5Z" class="f"/>
<path d="M239.5 1221.0L244.0 1217.5L248.5 1221.0L244.0 1224.5Z" class="f"/>
<path d="M221.5 1226.0L226.0 1222.5L230.5 1226.0L226.0 1229.5Z" class="f"/>
<path d="M247.5 1216.0L252.0 1212.5L256.5 1216.0L252.0 1219.5Z" class="f"/>
<path d="M216.5 1230.0L221.0 1226.5L225.5 1230.0L221.0 1233.5Z" class="f"/>
<path d="M783.8 989.5L788.3 986.0L792.8 989.5L788.3 993.0Z" class="f"/>
<path d="M785.3 945.1L788.3 941.8L791.3 945.1L788.3 948.4Z" class="o"/>
<path d="M612.1 970.2L615.1 966.9L618.1 970.2L615.1 973.5Z" class="o"/>
<path d="M711.1 992.1L714.1 988.8L717.1 992.1L714.1 995.4Z" class="o"/>
<path d="M639.0 1016.2L642.0 1012.9L645.0 1016.2L642.0 1019.5Z" class="o"/>
<path d="M655.7 1049.6L658.7 1046.3L661.7 1049.6L658.7 1052.9Z" class="o"/>
<path d="M617.0 1053.8L620.0 1050.5L623.0 1053.8L620.0 1057.1Z" class="o"/>
<path d="M529.2 1054.5L532.2 1051.2L535.2 1054.5L532.2 1057.8Z" class="o"/>
<path d="M493.0 1073.3L496.0 1070.0L499.0 1073.3L496.0 1076.6Z" class="o"/>
<path d="M458.5 1082.7L461.5 1079.4L464.5 1082.7L461.5 1086.0Z" class="o"/>
<path d="M424.0 1100.5L427.0 1097.2L430.0 1100.5L427.0 1103.8Z" class="o"/>
<path d="M435.1 1114.1L438.1 1110.8L441.1 1114.1L438.1 1117.4Z" class="o"/>
<path d="M463.8 1120.4L466.8 1117.1L469.8 1120.4L466.8 1123.7Z" class="o"/>
<path d="M507.7 1129.8L510.7 1126.5L513.7 1129.8L510.7 1133.1Z" class="o"/>
<path d="M525.4 1149.6L528.4 1146.3L531.4 1149.6L528.4 1152.9Z" class="o"/>
<path d="M542.2 1081.7L545.2 1078.4L548.2 1081.7L545.2 1085.0Z" class="o"/>
<path d="M527.5 1096.3L530.5 1093.0L533.5 1096.3L530.5 1099.6Z" class="o"/>
<path d="M397.9 1148.6L400.9 1145.3L403.9 1148.6L400.9 1151.9Z" class="o"/>
<path d="M390.6 1178.9L393.6 1175.6L396.6 1178.9L393.6 1182.2Z" class="o"/>
<path d="M377.0 1129.8L380.0 1126.5L383.0 1129.8L380.0 1133.1Z" class="o"/>
<path d="M588.7 1032.5L591.7 1029.2L594.7 1032.5L591.7 1035.8Z" class="o"/>
<path d="M616.0 1054.8L619.0 1051.5L622.0 1054.8L619.0 1058.1Z" class="o"/>
<path d="M578.8 1071.5L581.8 1068.2L584.8 1071.5L581.8 1074.8Z" class="o"/>
<path d="M541.6 1081.8L544.6 1078.5L547.6 1081.8L544.6 1085.1Z" class="o"/>
<path d="M571.4 1090.1L574.4 1086.8L577.4 1090.1L574.4 1093.4Z" class="o"/>
<path d="M374.7 1130.0L377.7 1126.7L380.7 1130.0L377.7 1133.3Z" class="o"/>
<path d="M293.0 1167.1L296.0 1163.8L299.0 1167.1L296.0 1170.4Z" class="o"/>
<path d="M304.1 1173.6L307.1 1170.3L310.1 1173.6L307.1 1176.9Z" class="o"/>
<path d="M326.4 1169.0L329.4 1165.7L332.4 1169.0L329.4 1172.3Z" class="o"/>
<path d="M268.8 1190.4L271.8 1187.1L274.8 1190.4L271.8 1193.7Z" class="o"/>
<path d="M278.1 1222.0L281.1 1218.7L284.1 1222.0L281.1 1225.3Z" class="o"/>
<path d="M336.6 1194.1L339.6 1190.8L342.6 1194.1L339.6 1197.4Z" class="o"/>
<path d="M362.7 1176.4L365.7 1173.1L368.7 1176.4L365.7 1179.7Z" class="o"/>
<path d="M366.4 1185.7L369.4 1182.4L372.4 1185.7L369.4 1189.0Z" class="o"/>
<path d="M370.1 1195.9L373.1 1192.6L376.1 1195.9L373.1 1199.2Z" class="o"/>
<path d="M306.9 1197.8L309.9 1194.5L312.9 1197.8L309.9 1201.1Z" class="o"/>
<path d="M320.8 1191.3L323.8 1188.0L326.8 1191.3L323.8 1194.6Z" class="o"/>
<path d="M284.6 1197.8L287.6 1194.5L290.6 1197.8L287.6 1201.1Z" class="o"/>
<path d="M235.4 1207.1L238.4 1203.8L241.4 1207.1L238.4 1210.4Z" class="o"/>
<path d="M229.0 1212.0L232.0 1208.7L235.0 1212.0L232.0 1215.3Z" class="o"/>
<path d="M139.5 1256.8L142.5 1253.5L145.5 1256.8L142.5 1260.1Z" class="o"/>
<path d="M143.7 1251.1L146.7 1247.8L149.7 1251.1L146.7 1254.4Z" class="o"/>
<path d="M151.0 1245.9L154.0 1242.6L157.0 1245.9L154.0 1249.2Z" class="o"/>
<path d="M158.4 1242.7L161.4 1239.4L164.4 1242.7L161.4 1246.0Z" class="o"/>
<path d="M168.8 1248.5L171.8 1245.2L174.8 1248.5L171.8 1251.8Z" class="o"/>
<path d="M177.2 1244.3L180.2 1241.0L183.2 1244.3L180.2 1247.6Z" class="o"/>
<path d="M185.5 1235.9L188.5 1232.6L191.5 1235.9L188.5 1239.2Z" class="o"/>
<path d="M191.8 1238.0L194.8 1234.7L197.8 1238.0L194.8 1241.3Z" class="o"/>
<path d="M190.8 1227.6L193.8 1224.3L196.8 1227.6L193.8 1230.9Z" class="o"/>
<path d="M197.0 1225.0L200.0 1221.7L203.0 1225.0L200.0 1228.3Z" class="o"/>
<path d="M203.3 1223.9L206.3 1220.6L209.3 1223.9L206.3 1227.2Z" class="o"/>
<path d="M208.5 1225.5L211.5 1222.2L214.5 1225.5L211.5 1228.8Z" class="o"/>
<path d="M211.7 1229.6L214.7 1226.3L217.7 1229.6L214.7 1232.9Z" class="o"/>
<line x1="139.5" y1="1266.0" x2="788.3" y2="989.0" class="slc"/>
<line x1="139.5" y1="1259.0" x2="788.3" y2="968.1" class="ulc"/>
<path d="M146.8 901.7L151.0 898.5L155.2 901.7L151.0 904.9Z" class="f"/>
<path d="M147.6 945.6L151.0 943.0L154.4 945.6L151.0 948.2Z" class="o"/>
<path d="M118.9 989h6.3M139.3 989h8.3M160.2 989h8.3M183.2 989h2.1" stroke="#000" stroke-width="3.7"/>
<path d="M116.8 1032.7h68.5" stroke="#000" stroke-width="4.2"/>
<text x="189.77" y="907.00" font-size="19.5" style="font-family:'Liberation Sans',sans-serif" textLength="219.63" lengthAdjust="spacing" class="lg">above ground biomass</text>
<text x="190.30" y="950.90" font-size="19.5" style="font-family:'Liberation Sans',sans-serif" textLength="132.40" lengthAdjust="spacing" class="lg">total biomass</text>
<text x="190.00" y="994.80" font-size="19.5" style="font-family:'Liberation Sans',sans-serif" textLength="252.31" lengthAdjust="spacing" class="lg">Fitted line (total biomass)</text>
<text x="190.00" y="1037.60" font-size="19.5" style="font-family:'Liberation Sans',sans-serif" textLength="240.96" lengthAdjust="spacing" class="lg">Fitted line (aboveground</text>
<text x="190.34" y="1060.60" font-size="19.5" style="font-family:'Liberation Sans',sans-serif" textLength="93.07" lengthAdjust="spacing" class="lg">biomass)</text>
<text x="735.57" y="1203.00" font-size="44" style="font-family:'Liberation Serif',serif" textLength="52.07" lengthAdjust="spacing">(c)</text>
<text transform="translate(18.30 1148.04) rotate(-90)" x="0" y="0" font-size="21.5" textLength="140.91" lengthAdjust="spacing" class="yt">Biomass (kg)</text>
<text x="337.76" y="1351.00" font-size="21.5" style="font-family:'Liberation Sans',sans-serif" textLength="104.56" lengthAdjust="spacingAndGlyphs" class="xt">Diameter</text>
<text x="442.47" y="1338.00" font-size="12.5" style="font-family:'Liberation Sans',sans-serif" textLength="7.23" lengthAdjust="spacingAndGlyphs" class="xt">2</text>
<text x="459.16" y="1347.50" font-size="15" style="font-family:'Liberation Sans',sans-serif" textLength="6.06" lengthAdjust="spacingAndGlyphs" class="xt">*</text>
<text x="475.46" y="1351.00" font-size="21.5" style="font-family:'Liberation Sans',sans-serif" textLength="74.20" lengthAdjust="spacingAndGlyphs" class="xt">Height</text>
<text x="556.93" y="1351.00" font-size="21.5" style="font-family:'Liberation Sans',sans-serif" textLength="6.39" lengthAdjust="spacing" class="xt">(</text>
<text x="563.98" y="1351.00" font-size="21.5" style="font-family:'Liberation Sans',sans-serif" textLength="22.45" lengthAdjust="spacingAndGlyphs" class="xt">m</text>
<text x="585.71" y="1337.30" font-size="12.5" style="font-family:'Liberation Sans',sans-serif" textLength="5.74" lengthAdjust="spacingAndGlyphs" class="xt">3</text>
<text x="594.58" y="1351.00" font-size="21.5" style="font-family:'Liberation Sans',sans-serif" textLength="6.29" lengthAdjust="spacing" class="xt">)</text>
</svg></body></html>
